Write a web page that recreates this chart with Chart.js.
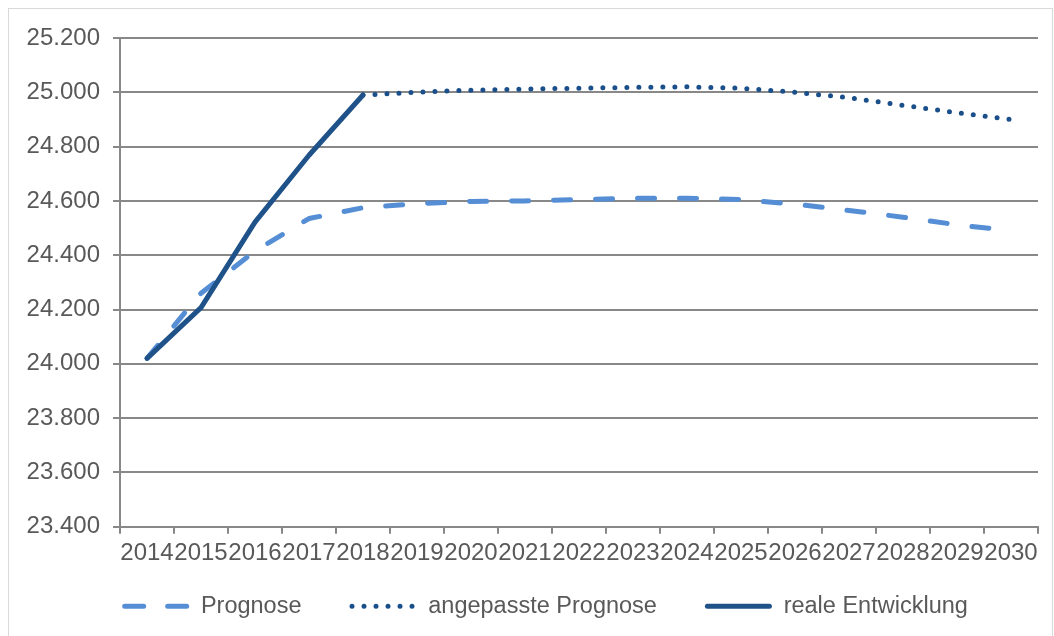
<!DOCTYPE html>
<html lang="de">
  <head>
    <meta charset="UTF-8" />
    <title>Prognose</title>
    <script src="https://cdn.jsdelivr.net/npm/chart.js"></script>
    <style>
      body { margin: 0; background: #fff; }
      .frame {
        position: absolute; left: 8px; top: 8px;
        width: 1043px; height: 700px;
        border: 1px solid #d9d9d9;
      }
      .chart-container {
        position: absolute; left: 0; top: 0;
        width: 1054px; height: 636px;
      }
    </style>
  </head>
  <body>
    <div class="frame"></div>
    <div class="chart-container">
      <canvas id="forecastChart"></canvas>
    </div>

    <script>
      const years = ["2014", "2015", "2016", "2017", "2018", "2019", "2020", "2021", "2022",
        "2023", "2024", "2025", "2026", "2027", "2028", "2029", "2030"];
      const prognose = [24020, 24260, 24415, 24535, 24575, 24590, 24598, 24600, 24605,
        24610, 24610, 24605, 24588, 24565, 24540, 24512, 24490];
      const angepasst = [null, null, null, null, 24990, 25000, 25008, 25012, 25015,
        25018, 25020, 25015, 25000, 24980, 24952, 24925, 24900];
      const real = [24020, 24207, 24522, 24768, 24990, null, null, null, null,
        null, null, null, null, null, null, null, null];

      const grey = "#888888";
      const textGrey = "#595959";
      const tickFont = { family: "'Liberation Sans', Arial, sans-serif", size: 24 };
      const legendFont = { family: "'Liberation Sans', Arial, sans-serif", size: 23.5 };

      // German thousands separator
      function fmt(v) {
        return String(v).replace(/\B(?=(\d{3})+(?!\d))/g, ".");
      }

      // the legend box is 93px wide; the dash pattern leaves its left 26px empty
      // so the sample line is ~67px and the gap between items gets wider
      const legendDashes = [
        [19, 24, 19, 1000],
        [0, 12, 0, 12, 0, 12, 0, 12, 0, 12, 0, 1000],
        [62, 1000],
      ];

      function legendLabels(chart) {
        const items = Chart.defaults.plugins.legend.labels.generateLabels(chart);
        return items.map((item) => {
          const ds = chart.data.datasets[item.datasetIndex];
          item.lineDash = legendDashes[item.datasetIndex];
          item.lineDashOffset = -28.5;
          item.lineCap = "round";
          item.lineWidth = ds.borderWidth;
          item.strokeStyle = ds.borderColor;
          return item;
        });
      }

      const ctx = document.getElementById("forecastChart").getContext("2d");
      new Chart(ctx, {
        type: "line",
        data: {
          labels: years,
          datasets: [
            {
              label: "Prognose",
              data: prognose,
              borderColor: "#558ed5",
              backgroundColor: "#558ed5",
              borderWidth: 5,
              borderDash: [17, 25],
              borderCapStyle: "round",
              borderJoinStyle: "round",
              order: 2,
            },
            {
              label: "angepasste Prognose",
              data: angepasst,
              borderColor: "#1b4f8a",
              backgroundColor: "#1b4f8a",
              borderWidth: 5,
              borderDash: [0, 12],
              borderCapStyle: "round",
              borderJoinStyle: "round",
              order: 1,
            },
            {
              label: "reale Entwicklung",
              data: real,
              borderColor: "#1f5289",
              backgroundColor: "#1f5289",
              borderWidth: 5,
              borderCapStyle: "round",
              borderJoinStyle: "round",
              order: 0,
            },
          ],
        },
        options: {
          responsive: true,
          maintainAspectRatio: false,
          animation: false,
          elements: { point: { radius: 0 }, line: { tension: 0 } },
          layout: { padding: { left: 26, right: 16, top: 38, bottom: 8 } },
          scales: {
            x: {
              offset: true,
              grid: {
                offset: true,
                drawOnChartArea: false,
                drawTicks: true,
                tickLength: 7,
                color: grey,
                lineWidth: 2,
              },
              border: { display: true, color: grey, width: 2 },
              ticks: {
                autoSkip: false,
                maxRotation: 0,
                minRotation: 0,
                padding: 5,
                color: textGrey,
                font: tickFont,
              },
            },
            y: {
              min: 23400,
              max: 25200,
              ticks: {
                stepSize: 200,
                padding: 13,
                color: textGrey,
                font: tickFont,
                callback: (v) => fmt(v),
              },
              grid: { color: grey, lineWidth: 2, tickLength: 7 },
              border: { display: true, color: grey, width: 2 },
              afterFit: (scale) => {
                scale.width = 94;
              },
            },
          },
          plugins: {
            tooltip: { enabled: false },
            legend: {
              position: "bottom",
              labels: {
                usePointStyle: true,
                pointStyle: "line",
                pointStyleWidth: 93,
                boxHeight: 23,
                padding: 22,
                color: textGrey,
                font: legendFont,
                generateLabels: legendLabels,
                sort: (a, b) => a.datasetIndex - b.datasetIndex,
              },
            },
          },
        },
      });
    </script>
  </body>
</html>
